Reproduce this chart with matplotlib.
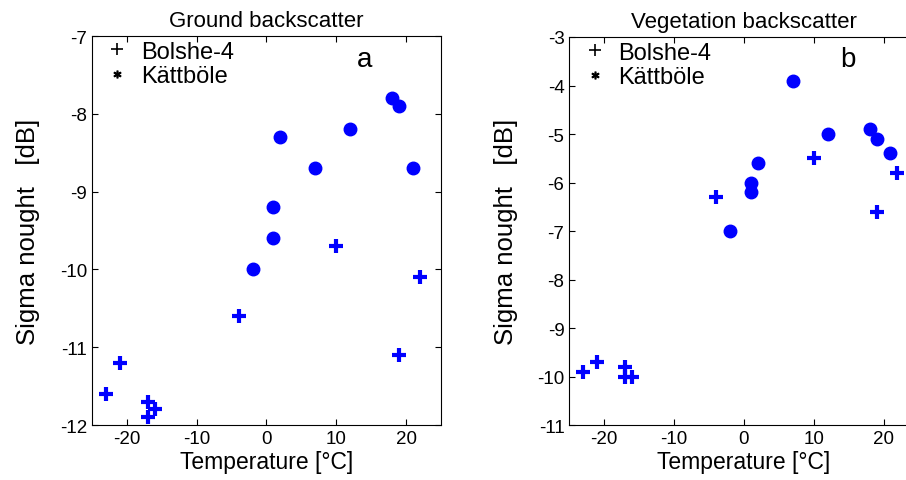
import matplotlib
matplotlib.use('Agg')
import matplotlib.pyplot as plt
from matplotlib.lines import Line2D

plt.rcParams['font.family'] = ['Liberation Sans', 'DejaVu Sans']
plt.rcParams['axes.unicode_minus'] = False

# Bolshe-4 (plus markers)
bolshe_temp = [-23, -21, -17, -16, -17, -4, 10, 22, 19]
bolshe_ground = [-11.6, -11.2, -11.7, -11.8, -11.9, -10.6, -9.7, -10.1, -11.1]
bolshe_veg = [-9.9, -9.7, -9.8, -10.0, -10.0, -6.3, -5.5, -5.8, -6.6]

# Kattbole (filled dots)
kattbole_temp = [2, 1, 1, -2, 7, 12, 18, 19, 21]
kattbole_ground = [-8.3, -9.2, -9.6, -10.0, -8.7, -8.2, -7.8, -7.9, -8.7]
kattbole_veg = [-5.6, -6.0, -6.2, -7.0, -3.9, -5.0, -4.9, -5.1, -5.4]

titles = ['Ground backscatter', 'Vegetation backscatter']
panel_tags = ['a', 'b']
ylims = [(-12, -7), (-11, -3)]
tag_pos = [(14.0, -7.3), (14.9, -3.45)]

blue = '#0000ff'

fig = plt.figure(figsize=(9.06, 4.81), dpi=100)
axes = [fig.add_axes([0.1015, 0.1143, 0.3853, 0.8087]),
        fig.add_axes([0.6284, 0.1143, 0.3853, 0.8067])]

series = [(bolshe_ground, kattbole_ground), (bolshe_veg, kattbole_veg)]

for i, ax in enumerate(axes):
  b_vals, k_vals = series[i]
  ax.plot(bolshe_temp, b_vals, ls='none', marker='+', color=blue,
          markersize=10, markeredgewidth=3)
  ax.plot(kattbole_temp, k_vals, ls='none', marker='o', color=blue,
          markersize=9)
  ax.set_xlim(-25, 25)
  ax.set_ylim(*ylims[i])
  ax.set_xticks([-20, -10, 0, 10, 20])
  ax.set_title(titles[i], fontsize=16, pad=7)
  ax.set_xlabel('Temperature [\u00b0C]', fontsize=16.5, labelpad=2)
  ax.set_ylabel('Sigma nought   [dB]', fontsize=18.5, labelpad=14)
  ax.tick_params(direction='in', top=True, right=True, length=4,
                 labelsize=13.5, width=0.8)
  ax.text(*tag_pos[i], panel_tags[i], fontsize=20, ha='center', va='center')

  handles = [Line2D([], [], ls='none', marker='+', color='k', markersize=9, markeredgewidth=1.2),
             Line2D([], [], ls='none', marker='$*$', color='k', markersize=5)]
  ax.legend(handles, ['Bolshe-4', 'K\u00e4ttb\u00f6le'], loc='upper left',
            frameon=False, fontsize=17, handlelength=1.0, handletextpad=0.5,
            borderaxespad=0.0, borderpad=0.2, labelspacing=0.1,
            bbox_to_anchor=(0.025, 1.0))

fig.savefig('out.png', dpi=100)
